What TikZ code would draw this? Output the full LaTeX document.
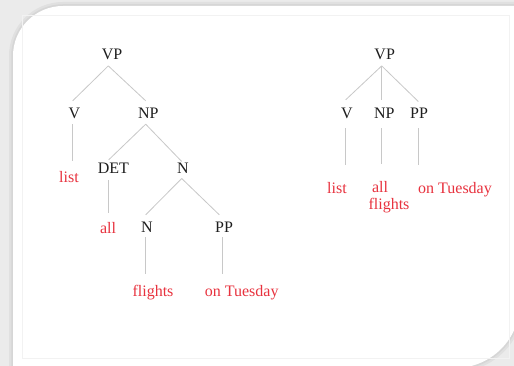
\documentclass[tikz,border=0pt]{standalone}
\usepackage{fontspec}
\setmainfont{Liberation Serif}
\usetikzlibrary{calc}
\definecolor{bggray}{HTML}{EBEBEB}
\definecolor{shadeA}{HTML}{E0E0E0}
\definecolor{shadeB}{HTML}{D6D6D6}
\definecolor{framegray}{HTML}{F2F2F2}
\definecolor{linegray}{HTML}{C8C8C8}
\definecolor{catblack}{HTML}{1E1E1E}
\definecolor{leafred}{HTML}{E8323E}
\tikzset{
  cat/.style={font=\fontsize{16}{19}\selectfont, text=catblack, inner xsep=1pt, inner ysep=6pt, text height=12pt, text depth=0pt},
  leaf/.style={font=\fontsize{16}{19}\selectfont, text=leafred, inner xsep=1pt, inner ysep=10pt, text height=12pt, text depth=0pt},
  edge/.style={draw=linegray, line width=0.8pt},
}
\begin{document}
\begin{tikzpicture}[x=1pt,y=-1pt]
\useasboundingbox (0,0) rectangle (514,366);
\clip (0,0) rectangle (514,366);
\fill[bggray] (0,0) rectangle (514,366);
% card shadow and card
\draw[shadeA, line width=8pt] (13,420) -- (13,56) .. controls (13,28.4) and (35.4,6) .. (63,6) -- (620,6);
\draw[shadeB, line width=3.5pt] (13,420) -- (13,56) .. controls (13,28.4) and (35.4,6) .. (63,6) -- (620,6);
\draw[shadeA, line width=8pt] (520,303) .. controls (520,339) and (491,368) .. (455,368) -- (300,368);
\draw[shadeB, line width=3.5pt] (520,303) .. controls (520,339) and (491,368) .. (455,368) -- (300,368);
\fill[white] (13,420) -- (13,56) .. controls (13,28.4) and (35.4,6) .. (63,6) -- (520,6) -- (520,303) .. controls (520,339) and (491,368) .. (455,368) -- (13,368) -- cycle;
\draw[framegray, line width=0.8pt] (22,15) rectangle (509,358);

% ---------- left tree ----------
\node[cat] (vpL) at (112,53.7) {VP};
\node[cat] (vL) at (74.5,113) {V};
\node[cat] (npL) at (148.3,113) {NP};
\node[leaf] (listL) at (69,177) {list};
\node[cat] (det) at (113.3,168) {DET};
\node[cat] (nA) at (183,168) {N};
\node[leaf] (allL) at (108,227.5) {all};
\node[cat] (nB) at (147,227) {N};
\node[cat] (ppL) at (224,227) {PP};
\node[leaf] (flightsL) at (153,290) {flights};
\node[leaf] (tuesL) at (241.7,290) {on Tuesday};

\draw[edge] ([xshift=-3.7pt]vpL.south) -- ([xshift=-1.8pt]vL.north);
\draw[edge] ([xshift=-3.7pt]vpL.south) -- ([xshift=-2.6pt]npL.north);
\draw[edge] ([xshift=-1.8pt,yshift=1pt]vL.south) -- ($(vL.south |- listL.north)+(-1.8pt,0)$);
\draw[edge] ([xshift=-2.6pt,yshift=1pt]npL.south) -- ([xshift=-4.6pt,yshift=-4pt]det.north);
\draw[edge] ([xshift=-2.6pt,yshift=1pt]npL.south) -- ([xshift=-1.3pt,yshift=-5.7pt]nA.north);
\draw[edge] ([xshift=-4.6pt]det.south) -- ($(det.south |- allL.north)+(-4.6pt,-1.5pt)$);
\draw[edge] ([xshift=-1.3pt,yshift=1.7pt]nA.south) -- ([xshift=-1.3pt]nB.north);
\draw[edge] ([xshift=-1.3pt,yshift=1.7pt]nA.south) -- ([xshift=-4.7pt]ppL.north);
\draw[edge] ([xshift=-1.3pt,yshift=1.7pt]nB.south) -- ($(nB.south |- flightsL.north)+(-1.3pt,0)$);
\draw[edge] ([xshift=-1.3pt,yshift=1.7pt]ppL.south) -- ($(ppL.south |- tuesL.north)+(-1.3pt,0)$);

% ---------- right tree ----------
\node[cat] (vpR) at (384.7,53.7) {VP};
\node[cat] (vR) at (347,113) {V};
\node[cat] (npR) at (384.3,113) {NP};
\node[cat] (ppR) at (419,113) {PP};
\node[leaf] (listR) at (337,187.5) {list};
\node[leaf] (allR) at (380,187) {all};
\node[leaf] (flightsR) at (389,204) {flights};
\node[leaf] (tuesR) at (455,187.5) {on Tuesday};

\draw[edge] ([xshift=-3pt]vpR.south) -- ([xshift=-1.3pt,yshift=1pt]vR.north);
\draw[edge] ([xshift=-3pt]vpR.south) -- ([xshift=-2.6pt,yshift=1pt]npR.north);
\draw[edge] ([xshift=-3pt]vpR.south) -- ([xshift=-0.7pt,yshift=-0.7pt]ppR.north);
\draw[edge, shorten <=3.3pt, shorten >=6.5pt] ([xshift=-1.3pt]vR.south) -- ($(vR.south |- listR.north)+(-1.3pt,0)$);
\draw[edge, shorten <=3.3pt, shorten >=6.5pt] ([xshift=-2.6pt]npR.south) -- ($(npR.south |- allR.north)+(-2.6pt,0)$);
\draw[edge, shorten <=3.3pt, shorten >=6.5pt] ([xshift=-0.7pt]ppR.south) -- ($(ppR.south |- tuesR.north)+(-0.7pt,0)$);
\end{tikzpicture}
\end{document}
